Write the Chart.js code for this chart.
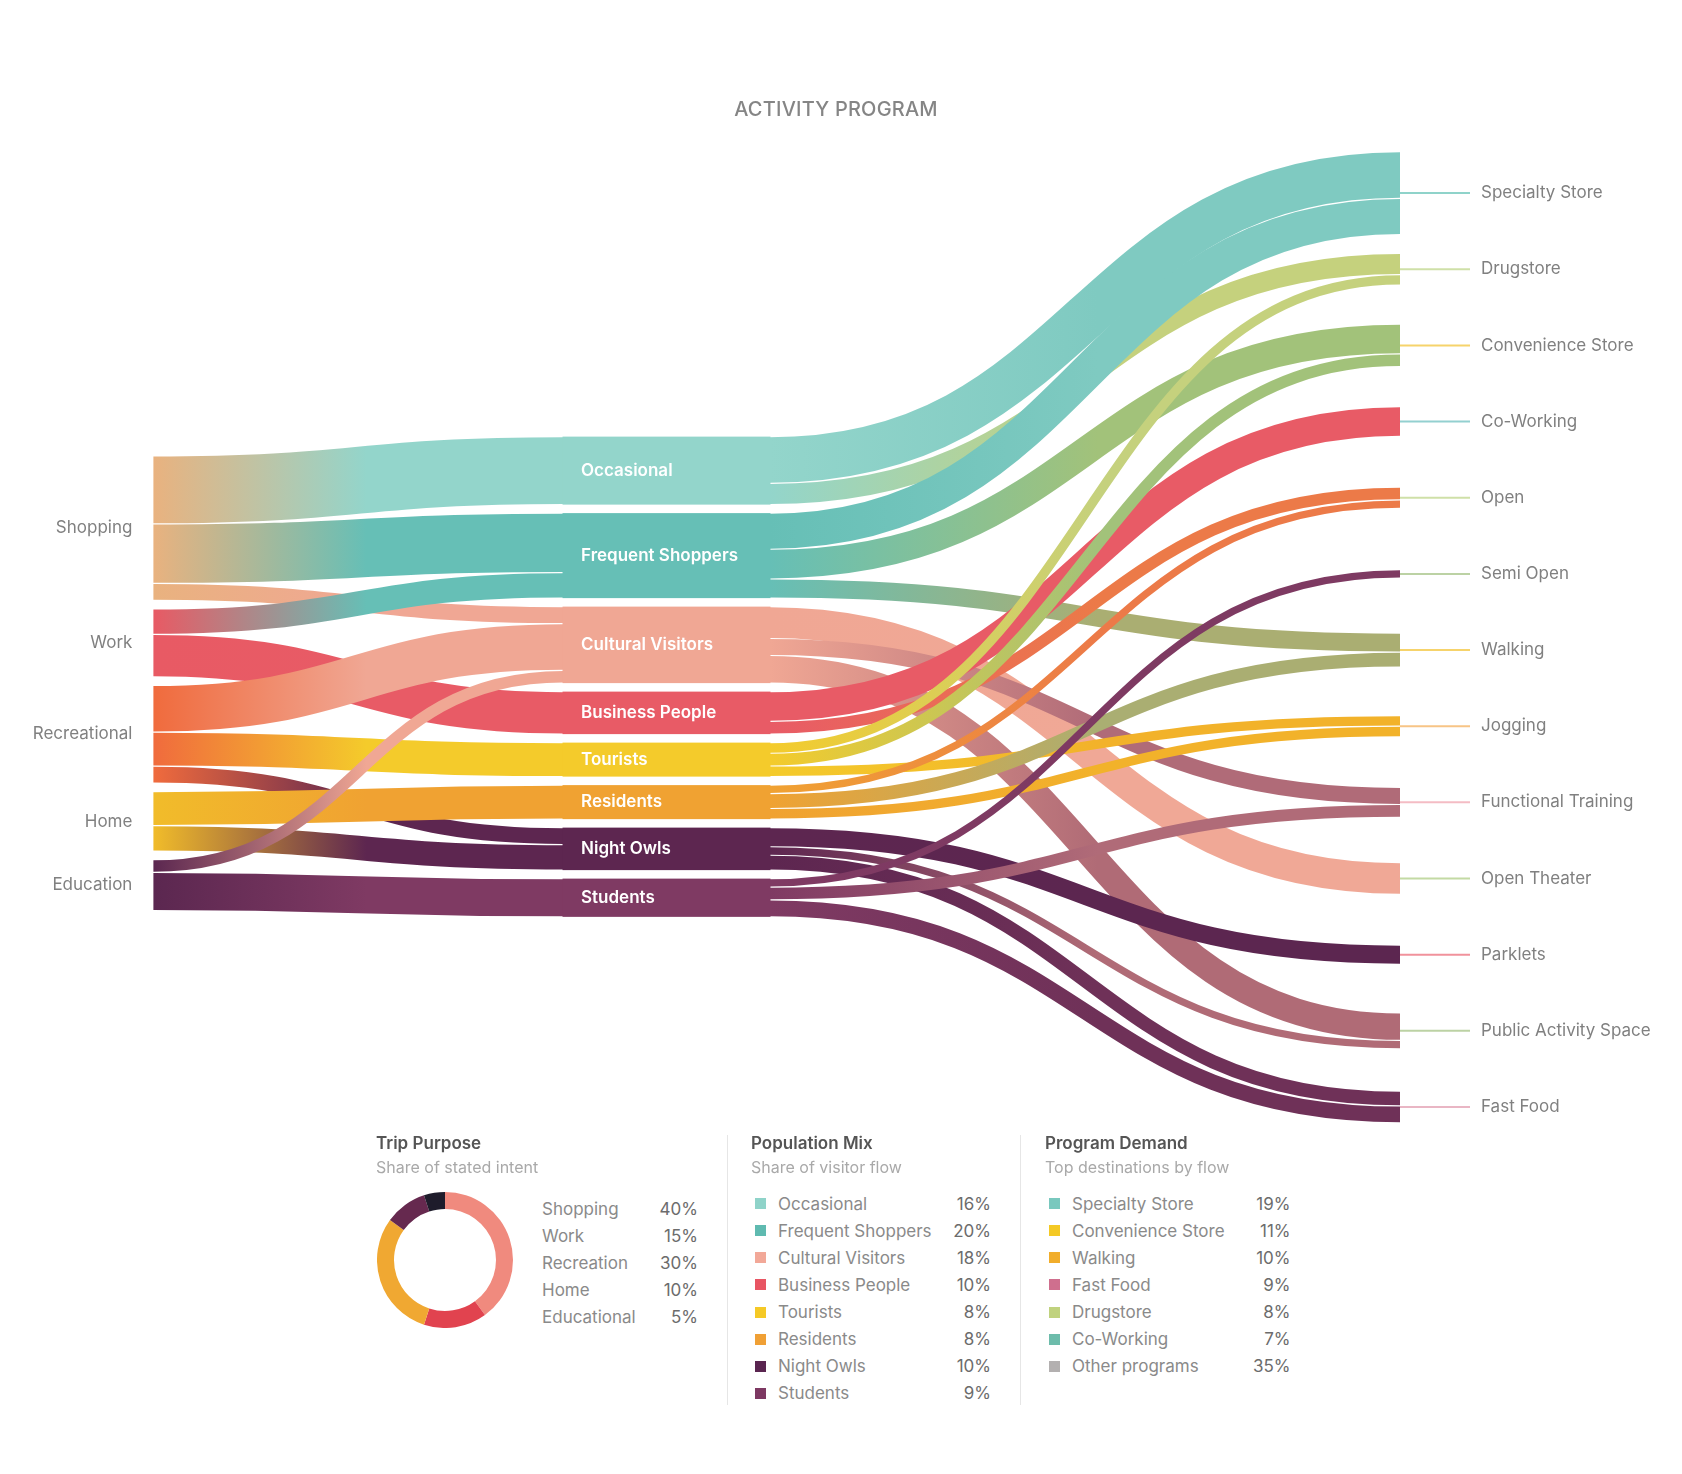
<!DOCTYPE html>
<html>
<head>
<meta charset="utf-8">
<script src="https://cdn.jsdelivr.net/npm/chart.js@4.4.1/dist/chart.umd.min.js"></script>
<style>
  html, body { margin:0; padding:0; background:#fff; width:1682px; height:1474px; overflow:hidden;
    font-family: Inter, "Noto Sans", "DejaVu Sans", sans-serif; }
  #sankey { position:absolute; left:0; top:0; }
  #title { position:absolute; left:586px; width:500px; top:97px; text-align:center; font-size:20px;
    font-weight:500; color:#858585; line-height:24px; letter-spacing:0.2px; }
  .ptitle { position:absolute; top:1133px; font-size:17px; font-weight:600; color:#555; line-height:20px; white-space:nowrap; }
  .psub { position:absolute; top:1157px; font-size:16px; color:#a9a9a9; line-height:20px; white-space:nowrap; }
  .divider { position:absolute; top:1135px; height:270px; width:1px; background:#e6e6e6; }
  .row { position:absolute; height:20px; line-height:20px; font-size:17px; white-space:nowrap; }
  .lab { position:absolute; left:0; color:#8a8a8a; }
  .val { position:absolute; right:0; color:#6c6c6c; }
  .sw { position:absolute; width:11px; height:11px; }
  #donut { position:absolute; left:377px; top:1192px; }
</style>
</head>
<body>
<canvas id="sankey" width="1682" height="1140"></canvas>
<div id="title">ACTIVITY PROGRAM</div>
<canvas id="donut" width="136" height="136"></canvas>
<div id="legends"></div>
<script>
// ---------- DATA ----------
const leftNodes  = ['Shopping','Work','Recreational','Home','Education'];
const leftColors = ['#e9b27f','#e85a64','#f06b3d','#f1bc2a','#5b2750'];

const midNodes  = ['Occasional','Frequent Shoppers','Cultural Visitors','Business People','Tourists','Residents','Night Owls','Students'];
const midColors = ['#93d5cb','#66bfb6','#f0a794','#e85b66','#f4cb2b','#f0a232','#5d2650','#7f3a63'];

const rightNodes  = ['Specialty Store','Drugstore','Convenience Store','Co-Working','Open','Semi Open','Walking','Jogging','Functional Training','Open Theater','Parklets','Public Activity Space','Fast Food'];
const rightColors = ['#7fcac1','#c5d17d','#a2c27a','#e85b66','#ec7a48','#7e3a62','#aaae72','#f2b22a','#b06b78','#f0a896','#5c2650','#b06b76','#6f3158'];
const tickColors  = ['#8fd3ca','#cfe0a8','#f6d36b','#93d0d0','#cfe0a8','#bcd2a4','#f6d36b','#f7c486','#f4bcc4','#c3daa4','#f1929c','#bcd2a4','#e9b6c4'];

// [source, target, value]
const purposeFlows = [
  ['Shopping','Occasional',16],
  ['Shopping','Frequent Shoppers',14],
  ['Shopping','Cultural Visitors',4],
  ['Work','Frequent Shoppers',6],
  ['Work','Business People',10],
  ['Recreational','Cultural Visitors',11],
  ['Recreational','Tourists',8],
  ['Recreational','Night Owls',4],
  ['Home','Residents',8],
  ['Home','Night Owls',6],
  ['Education','Cultural Visitors',3],
  ['Education','Students',9]
];
const programFlows = [
  ['Occasional','Specialty Store',11],
  ['Occasional','Drugstore',5],
  ['Frequent Shoppers','Specialty Store',8.5],
  ['Frequent Shoppers','Convenience Store',7],
  ['Frequent Shoppers','Walking',4.5],
  ['Cultural Visitors','Open Theater',7.5],
  ['Cultural Visitors','Functional Training',4],
  ['Cultural Visitors','Public Activity Space',6.5],
  ['Business People','Co-Working',7],
  ['Business People','Open',3],
  ['Tourists','Drugstore',2.5],
  ['Tourists','Convenience Store',3],
  ['Tourists','Jogging',2.5],
  ['Residents','Open',2],
  ['Residents','Walking',3.5],
  ['Residents','Jogging',2.5],
  ['Night Owls','Parklets',4.5],
  ['Night Owls','Public Activity Space',2],
  ['Night Owls','Fast Food',3.5],
  ['Students','Semi Open',2],
  ['Students','Functional Training',3],
  ['Students','Fast Food',4]
];

const tripLabels = ['Shopping','Work','Recreation','Home','Educational'];
const tripValues = [40,15,30,10,5];
const tripColors = ['#f08a7e','#e1434f','#f0a832','#66294f','#1e1c2b'];

const popLabels = ['Occasional','Frequent Shoppers','Cultural Visitors','Business People','Tourists','Residents','Night Owls','Students'];
const popValues = [16,20,18,10,8,8,10,9];
const popColors = ['#8fd3c9','#5fbab0','#f2a898','#e85563','#f5c926','#f0a035','#5a2550','#7d3862'];

const demandLabels = ['Specialty Store','Convenience Store','Walking','Fast Food','Drugstore','Co-Working','Other programs'];
const demandValues = [19,11,10,9,8,7,35];
const demandColors = ['#79c8be','#f4c925','#f1ad2b','#cf6f8e','#c0d27e','#6dbcab','#b3b0b0'];

// ---------- LAYOUT CONSTANTS (scale units) ----------
const X_LEFT = 0, X_MID0 = 0.3286, X_MID1 = 0.4946, X_RIGHT = 1;
const LEFT_TOP = 81.4, MID_TOP = 76.85, GAP = 2;
const RIGHT_C0 = 19.55, RIGHT_STEP = 17.92;

function buildLayout() {
  const nodes = {};
  const sum = (arr, key, name) => arr.filter(f => f[key] === name).reduce((a, f) => a + f[2], 0);
  let y = LEFT_TOP;
  leftNodes.forEach((n, i) => {
    const v = sum(purposeFlows, 0, n);
    nodes[n] = { top: y, val: v, color: leftColors[i], out: 0, inn: 0 };
    y += v + GAP;
  });
  y = MID_TOP;
  midNodes.forEach((n, i) => {
    const v = Math.max(sum(purposeFlows, 1, n), sum(programFlows, 0, n));
    nodes[n] = { top: y, val: v, color: midColors[i], out: 0, inn: 0 };
    y += v + GAP;
  });
  rightNodes.forEach((n, i) => {
    const v = sum(programFlows, 1, n);
    const c = RIGHT_C0 + i * RIGHT_STEP;
    nodes[n] = { top: c - v / 2, val: v, color: rightColors[i], tick: tickColors[i], out: 0, inn: 0 };
  });
  const links = [];
  [[purposeFlows, X_LEFT, X_MID0], [programFlows, X_MID1, X_RIGHT]].forEach(([flows, x0, x1]) => {
    flows.forEach(([s, t, v]) => {
      const S = nodes[s], T = nodes[t];
      links.push({ x0, x1, y0: S.top + S.out + v / 2, y1: T.top + T.inn + v / 2, v, c0: S.color, c1: T.color });
      S.out += v; T.inn += v;
    });
  });
  return { nodes, links };
}

const sankeyPlugin = {
  id: 'sankeyDraw',
  afterDatasetsDraw(chart) {
    const ctx = chart.ctx, xs = chart.scales.x, ys = chart.scales.y;
    const X = v => xs.getPixelForValue(v);
    const Y = v => ys.getPixelForValue(v);
    const { nodes, links } = buildLayout();
    ctx.save();
    ctx.lineCap = 'butt';
    const drawLink = (l) => {
      const x0 = X(l.x0), x1 = X(l.x1), y0 = Y(l.y0), y1 = Y(l.y1);
      const w = Math.abs(Y(l.v) - Y(0));
      const g = ctx.createLinearGradient(x0, 0, x1, 0);
      g.addColorStop(0, l.c0);
      g.addColorStop(0.52, l.c1);
      g.addColorStop(1, l.c1);
      ctx.strokeStyle = g;
      ctx.lineWidth = Math.max(1, w - 1.2);
      const xm = (x0 + x1) / 2;
      ctx.beginPath();
      ctx.moveTo(x0, y0);
      ctx.bezierCurveTo(xm, y0, xm, y1, x1, y1);
      ctx.stroke();
    };
    links.filter(l => l.x0 === X_LEFT).forEach(drawLink);
    // middle nodes
    midNodes.forEach(n => {
      const nd = nodes[n];
      ctx.fillStyle = nd.color;
      ctx.fillRect(X(X_MID0) - 0.5, Y(nd.top), X(X_MID1) - X(X_MID0) + 1, Y(nd.top + nd.val) - Y(nd.top));
    });
    links.filter(l => l.x0 === X_MID1).forEach(drawLink);

    // labels
    ctx.textBaseline = 'middle';
    ctx.font = '17px Inter, "Noto Sans", sans-serif';
    ctx.fillStyle = '#808080';
    ctx.textAlign = 'right';
    leftNodes.forEach(n => {
      const nd = nodes[n];
      ctx.fillText(n, X(X_LEFT) - 21, Y(nd.top + nd.val / 2));
    });
    ctx.textAlign = 'left';
    rightNodes.forEach(n => {
      const nd = nodes[n];
      const cy = Y(nd.top + nd.val / 2);
      ctx.strokeStyle = nd.tick;
      ctx.lineWidth = 2;
      ctx.beginPath();
      ctx.moveTo(X(X_RIGHT), cy);
      ctx.lineTo(X(X_RIGHT) + 70, cy);
      ctx.stroke();
      ctx.fillStyle = '#808080';
      ctx.fillText(n, X(X_RIGHT) + 81, cy);
    });
    ctx.font = '600 17px Inter, "Noto Sans", sans-serif';
    ctx.fillStyle = '#ffffff';
    midNodes.forEach(n => {
      const nd = nodes[n];
      ctx.fillText(n, X(X_MID0) + 18, Y(nd.top + nd.val / 2));
    });
    ctx.restore();
  }
};

new Chart(document.getElementById('sankey'), {
  type: 'scatter',
  data: { datasets: [{ data: [] }] },
  options: {
    responsive: false,
    animation: false,
    events: [],
    layout: { padding: { left: 153.4, right: 282, top: 110, bottom: 10 } },
    scales: {
      x: { type: 'linear', min: 0, max: 1, display: false },
      y: { type: 'linear', min: 0, max: 240, reverse: true, display: false }
    },
    plugins: { legend: { display: false }, tooltip: { enabled: false } }
  },
  plugins: [sankeyPlugin]
});

new Chart(document.getElementById('donut'), {
  type: 'doughnut',
  data: { labels: tripLabels, datasets: [{ data: tripValues, backgroundColor: tripColors, borderWidth: 0 }] },
  options: {
    responsive: false, animation: false, events: [], cutout: '75%',
    plugins: { legend: { display: false }, tooltip: { enabled: false } }
  }
});

// ---------- LEGEND PANELS ----------
const L = document.getElementById('legends');
function add(html) { L.insertAdjacentHTML('beforeend', html); }
add('<div class="ptitle" style="left:376px">Trip Purpose</div><div class="psub" style="left:376px">Share of stated intent</div>');
add('<div class="divider" style="left:727px"></div>');
add('<div class="ptitle" style="left:751px">Population Mix</div><div class="psub" style="left:751px">Share of visitor flow</div>');
add('<div class="divider" style="left:1020px"></div>');
add('<div class="ptitle" style="left:1045px">Program Demand</div><div class="psub" style="left:1045px">Top destinations by flow</div>');

tripLabels.forEach((lab, i) => {
  const top = 1199 + i * 27.1;
  add(`<div class="row" style="left:542px;width:156px;top:${top}px"><span class="lab">${lab}</span><span class="val">${tripValues[i]}%</span></div>`);
});
popLabels.forEach((lab, i) => {
  const top = 1193.6 + i * 27.1;
  add(`<div class="sw" style="left:755px;top:${top + 4.5}px;background:${popColors[i]}"></div>`);
  add(`<div class="row" style="left:778px;width:213px;top:${top}px"><span class="lab">${lab}</span><span class="val">${popValues[i]}%</span></div>`);
});
demandLabels.forEach((lab, i) => {
  const top = 1193.6 + i * 27.1;
  add(`<div class="sw" style="left:1049px;top:${top + 4.5}px;background:${demandColors[i]}"></div>`);
  add(`<div class="row" style="left:1072px;width:218.5px;top:${top}px"><span class="lab">${lab}</span><span class="val">${demandValues[i]}%</span></div>`);
});
</script>
</body>
</html>
